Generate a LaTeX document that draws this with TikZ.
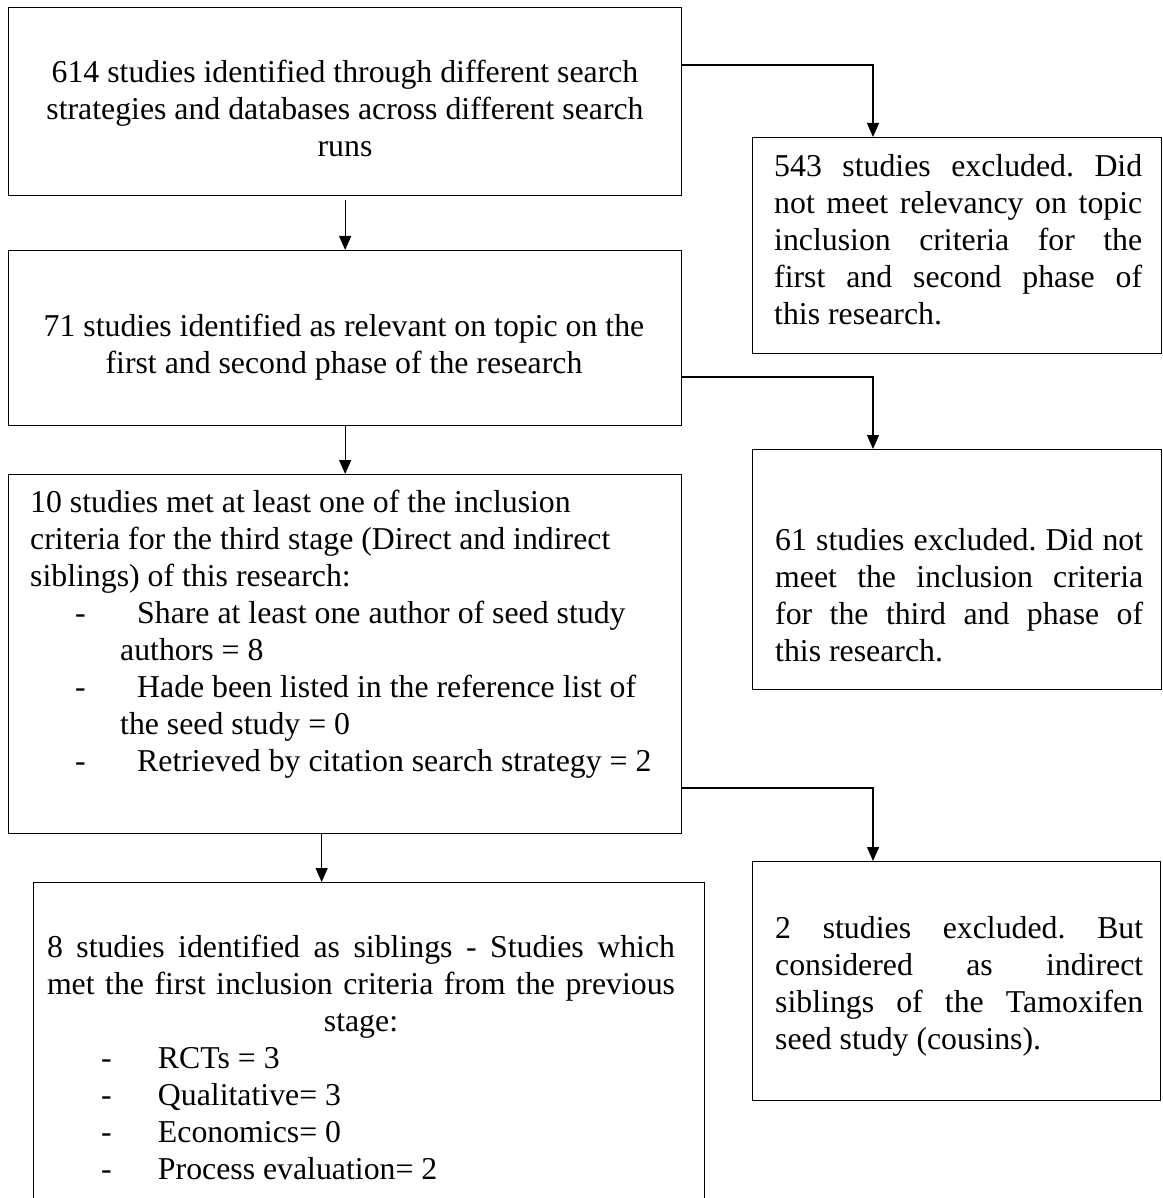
\documentclass[tikz,border=0pt]{standalone}
\usepackage{fontspec}
\setmainfont{Liberation Serif}
\usetikzlibrary{arrows.meta}

% one justified line of a given width: the word spaces take up the slack
\newcommand{\jline}[2]{\makebox[#1][s]{\spaceskip=0.25em plus 1fil\xspaceskip=0.25em plus 1fil\relax #2}}
% list entry: dash indent, dash box width, then the entry text
\newcommand{\dashitem}[3]{\hspace*{#1}\makebox[#2][l]{-}#3}

\tikzset{
  box/.style={draw, line width=1.3pt, rectangle, inner sep=0pt, anchor=north west},
  txt/.style={inner sep=0pt, font=\fontsize{31.8pt}{37pt}\selectfont\frenchspacing},
  arr/.style={line width=1.3pt, -{Triangle[width=12pt,length=14pt]}}
}

\begin{document}
\begin{tikzpicture}[x=1pt, y=-1pt]
\useasboundingbox (0,0) rectangle (1162,1198);
\fill[white] (0,0) rectangle (1162,1198);
\clip (0,0) rectangle (1162,1198);

% left column of stages
\node[box, minimum width=673pt, minimum height=188pt] (b1) at (8,7) {};
\node[box, minimum width=673pt, minimum height=175pt] (b2) at (8,250) {};
\node[box, minimum width=673pt, minimum height=359pt] (b3) at (8,474) {};
\node[box, minimum width=671pt, minimum height=360pt] (b4) at (33,882) {};

% right column of exclusions
\node[box, minimum width=409pt, minimum height=216pt] (r1) at (752,137) {};
\node[box, minimum width=409pt, minimum height=240pt] (r2) at (752,449) {};
\node[box, minimum width=408pt, minimum height=239pt] (r3) at (752,861) {};

% texts
\node[txt, text width=660pt, align=flush center, anchor=base] (t1) at (345,83)
  {614 studies identified through different search\\
   strategies and databases across different search\\
   runs};

\node[txt, text width=660pt, align=flush center, anchor=base] (t2) at (344,336)
  {71 studies identified as relevant on topic on the\\
   first and second phase of the research};

\node[txt, text width=640pt, align=flush left, anchor=base west] (t3) at (30,512)
  {10 studies met at least one of the inclusion\\
   criteria for the third stage (Direct and indirect\\
   siblings) of this research:\\
   \dashitem{45pt}{62pt}{Share at least one author of seed study}\\
   \hspace*{90pt}authors = 8\\
   \dashitem{45pt}{62pt}{Hade been listed in the reference list of}\\
   \hspace*{90pt}the seed study = 0\\
   \dashitem{45pt}{62pt}{Retrieved by citation search strategy = 2}};

\node[txt, text width=640pt, align=flush center, anchor=base] (t4) at (361,957)
  {\jline{628pt}{8 studies identified as siblings - Studies which}\\
   \jline{628pt}{met the first inclusion criteria from the previous}\\
   stage:\\
   \makebox[640pt][l]{\dashitem{60pt}{57pt}{RCTs = 3}}\\
   \makebox[640pt][l]{\dashitem{60pt}{57pt}{Qualitative= 3}}\\
   \makebox[640pt][l]{\dashitem{60pt}{57pt}{Economics= 0}}\\
   \makebox[640pt][l]{\dashitem{60pt}{57pt}{Process evaluation= 2}}};

\node[txt, text width=368pt, align=flush left, anchor=base west] (tr1) at (774,177)
  {\jline{368pt}{543 studies excluded. Did}\\
   \jline{368pt}{not meet relevancy on topic}\\
   \jline{368pt}{inclusion criteria for the}\\
   \jline{368pt}{first and second phase of}\\
   this research.};

\node[txt, text width=368pt, align=flush left, anchor=base west] (tr2) at (775,550)
  {\jline{368pt}{61 studies excluded. Did not}\\
   \jline{368pt}{meet the inclusion criteria}\\
   \jline{368pt}{for the third and phase of}\\
   this research.};

\node[txt, text width=368pt, align=flush left, anchor=base west] (tr3) at (775,938)
  {\jline{368pt}{2 studies excluded. But}\\
   \jline{368pt}{considered as indirect}\\
   \jline{368pt}{siblings of the Tamoxifen}\\
   seed study (cousins).};

% connectors
\draw[arr] ([yshift=-58pt]b1.north east) -| ([xshift=121pt]r1.north west);
\draw[arr] ([yshift=-4pt]b1.south) -- (b2.north);
\draw[arr] ([yshift=-127pt]b2.north east) -| ([xshift=121pt]r2.north west);
\draw[arr] (b2.south) -- (b3.north);
\draw[arr] ([yshift=-314pt]b3.north east) -| ([xshift=121pt]r3.north west);
\draw[arr] ([xshift=-23.5pt]b3.south) -- ([xshift=-47.5pt]b4.north);
\end{tikzpicture}
\end{document}
